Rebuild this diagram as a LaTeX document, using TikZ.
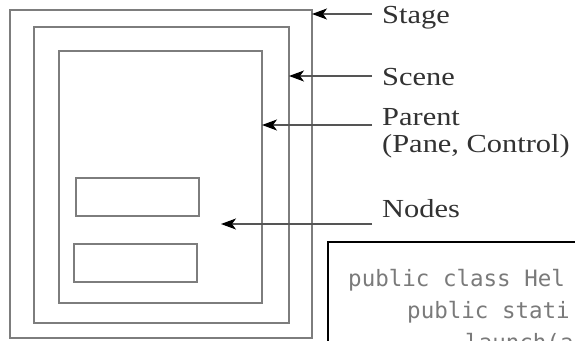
\documentclass[tikz,border=0pt]{standalone}
\usepackage{fontspec}
\newfontfamily\lblfont[FakeStretch=1.17]{Liberation Serif}
\newfontfamily\codefont{DejaVu Sans Mono}
\usetikzlibrary{arrows.meta}
\definecolor{framegray}{RGB}{125,125,125}
\definecolor{arrowgray}{RGB}{85,85,85}
\definecolor{textgray}{RGB}{50,50,50}
\definecolor{codegray}{RGB}{122,122,122}

\begin{document}
\begin{tikzpicture}[x=1pt,y=-1pt,
  frame/.style={draw=framegray,line width=1.4pt,inner sep=0pt,outer sep=0pt},
  lbl/.style={anchor=base west,inner sep=0pt,text=textgray,font=\lblfont\fontsize{26}{30}\selectfont},
  code/.style={anchor=base west,inner sep=0pt,text=codegray,font=\codefont\fontsize{22.5}{26}\selectfont},
  ptr/.style={draw=arrowgray,line width=1.2pt,-{Stealth[length=15pt,width=11pt,inset=4pt,color=black]}}]
\clip (0,0) rectangle (575,340);
\fill [white] (0,0) rectangle (575,340);
\node (stage) [frame,minimum width=302,minimum height=328] at (161,174) {};
\node (scene) [frame,minimum width=255,minimum height=296] at (161.5,175) {};
\node (parent) [frame,minimum width=203,minimum height=252] at (160.5,177) {};
\node (box1) [frame,minimum width=123,minimum height=38] at (137.5,197) {};
\node (box2) [frame,minimum width=123,minimum height=38] at (135.5,263) {};
\node (tstage) [lbl] at (382,23) {Stage};
\node (tscene) [lbl] at (382,85) {Scene};
\node (tparent) [lbl] at (382,125) {Parent};
\node (tpane) [lbl] at (382,152) {(Pane, Control)};
\node (tnodes) [lbl] at (382,217) {Nodes};
\coordinate (astage) at (372,14);
\coordinate (ascene) at (372,76);
\coordinate (aparent) at (372,125);
\coordinate (anodes) at (372,224);
\coordinate (inside) at (221,224);
\draw [ptr] (astage) -- (stage.east |- astage);
\draw [ptr] (ascene) -- (scene.east |- ascene);
\draw [ptr] (aparent) -- (parent.east |- aparent);
\draw [ptr] (anodes) -- (inside);
\node (codebox) [draw=black,line width=1.8pt,anchor=north west,minimum width=280,minimum height=130,inner sep=0pt] at (327,241) {};
\node (code1) [code] at (348,286) {public class Hel};
\node (code2) [code] at (407,318) {public stati};
\node (code3) [code] at (465,350) {launch(a};
\end{tikzpicture}
\end{document}
